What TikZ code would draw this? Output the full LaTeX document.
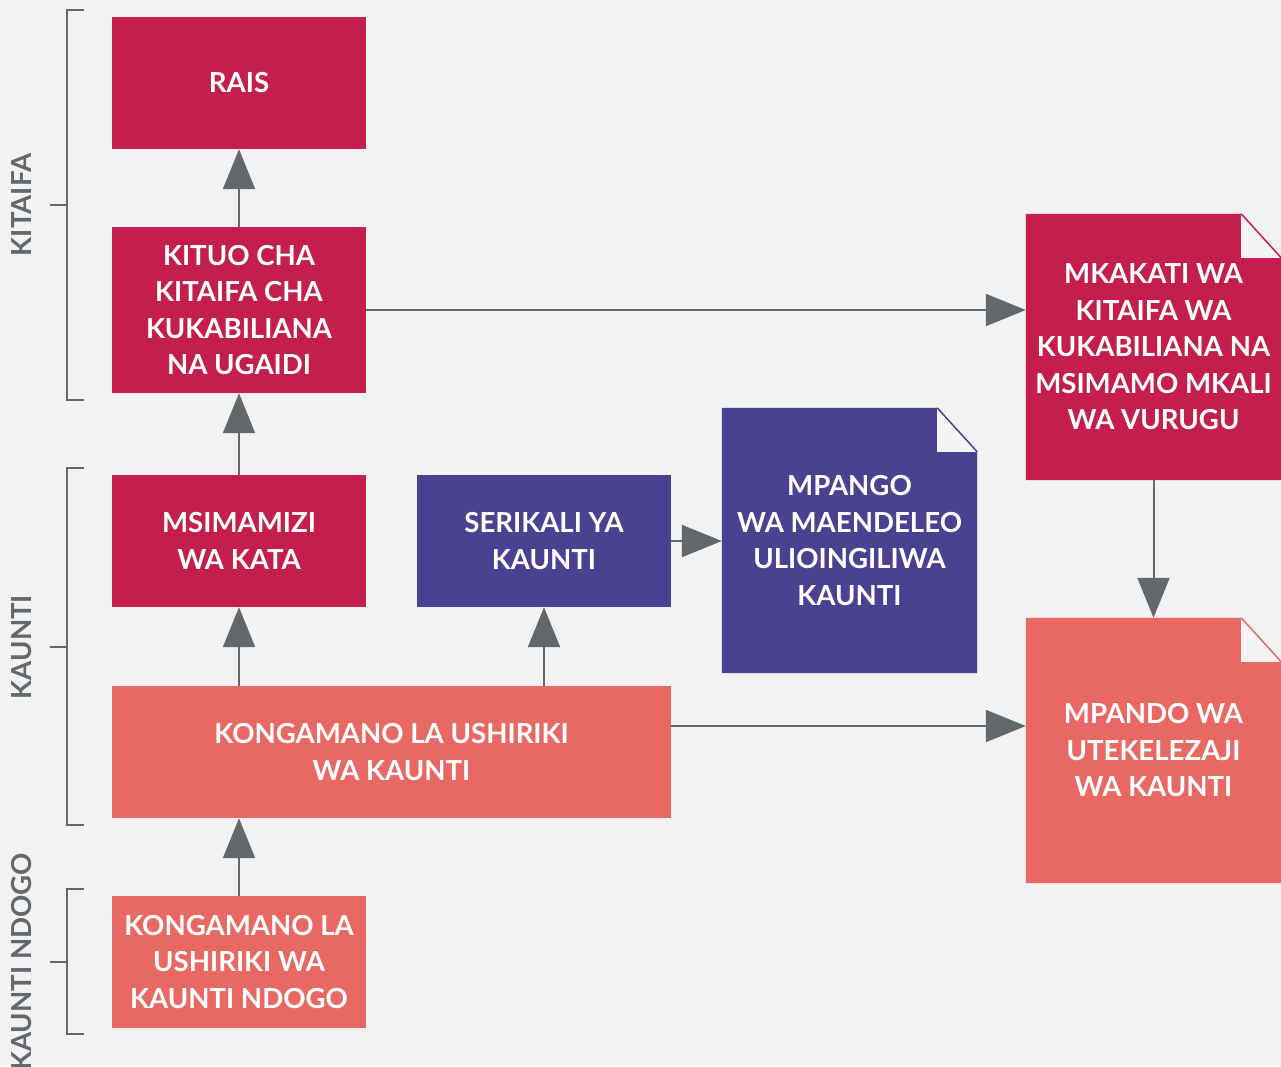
\documentclass[tikz,border=0pt]{standalone}
\usepackage{fontspec}
\setmainfont{Lato}
\usetikzlibrary{arrows.meta,calc}
\definecolor{bgc}{HTML}{F2F2F2}
\definecolor{crim}{HTML}{C41F4C}
\definecolor{purp}{HTML}{4A4190}
\definecolor{salm}{HTML}{E86963}
\definecolor{grayc}{HTML}{63686D}
\definecolor{foldc}{HTML}{F4F4F4}
\pgfdeclarelayer{bglayer}
\pgfdeclarelayer{docs}
\pgfsetlayers{bglayer,docs,main}
\tikzset{
  box/.style={minimum width=254pt, minimum height=132pt, inner sep=0pt, align=center,
    text=white, font=\fontsize{27.6}{36.5}\selectfont\bfseries},
  doc/.style={box, minimum width=255pt, minimum height=265pt},
  conn/.style={draw=grayc, line width=2pt, -{Triangle[length=40pt,width=32pt]}},
  brk/.style={draw=grayc, line width=2pt},
  lvl/.style={rotate=90, text=grayc, font=\fontsize{27.6}{36}\selectfont\bfseries, inner sep=0pt}
}
\newcommand{\docshape}[2]{%
  \begin{pgfonlayer}{docs}
  \fill[#2] (#1.south west) -- (#1.north west) -- ([xshift=-40pt]#1.north east)
     -- ([yshift=-44pt]#1.north east) -- (#1.south east) -- cycle;
  \fill[foldc] ([xshift=-40pt]#1.north east) -- ([xshift=-40pt,yshift=-44pt]#1.north east)
     -- ([yshift=-44pt]#1.north east) -- cycle;
  \draw[#2, line width=1.5pt] ([xshift=-40pt]#1.north east) -- ([yshift=-44pt]#1.north east);
  \end{pgfonlayer}}
\begin{document}
\begin{tikzpicture}[x=1pt,y=-1pt]
\begin{pgfonlayer}{bglayer}
\fill[bgc] (0,0) rectangle (1281,1066);
\end{pgfonlayer}
\useasboundingbox (0,0) rectangle (1281,1066);

\node[box, fill=crim] (rais) at (239,83) {RAIS};
\node[box, fill=crim, minimum height=166pt] (kituo) at (239,310) {KITUO CHA\\KITAIFA CHA\\KUKABILIANA\\NA UGAIDI};
\node[box, fill=crim] (msim) at (239,541) {MSIMAMIZI\\WA KATA};
\node[box, fill=purp] (seri) at (544,541) {SERIKALI YA\\KAUNTI};
\node[box, fill=salm, minimum width=559pt] (kong) at (391.5,752) {KONGAMANO LA USHIRIKI\\WA KAUNTI};
\node[box, fill=salm] (ndogo) at (239,962) {KONGAMANO LA\\USHIRIKI WA\\KAUNTI NDOGO};

\node[doc] (mpango) at (849.5,540.5) {MPANGO\\WA MAENDELEO\\ULIOINGILIWA\\KAUNTI};
\node[doc, minimum height=266pt] (mkakati) at (1153.5,347) {MKAKATI WA\\KITAIFA WA\\KUKABILIANA NA\\MSIMAMO MKALI\\WA VURUGU};
\node[doc] (mpando) at (1153.5,750.5) {MPANDO WA\\UTEKELEZAJI\\WA KAUNTI};
\docshape{mpango}{purp}
\docshape{mkakati}{crim}
\docshape{mpando}{salm}

\draw[conn] (kituo.north) -- (rais.south);
\draw[conn] (msim.north) -- (kituo.south);
\draw[conn] (kong.north -| msim.south) -- (msim.south);
\draw[conn] (kong.north -| seri.south) -- (seri.south);
\draw[conn] (ndogo.north) -- (kong.south -| ndogo.north);
\draw[conn] (kituo.east) -- (kituo.east -| mkakati.west);
\draw[conn] (seri.east) -- (seri.east -| mpango.west);
\coordinate (kongr) at ([yshift=26pt]kong.east);
\draw[conn] (kongr) -- (kongr -| mpando.west);
\draw[conn] (mkakati.south) -- (mpando.north);

\draw[brk] (84,10) -- (67,10) -- (67,400) -- (84,400);
\draw[brk] (50,205) -- (67,205);
\draw[brk] (84,468) -- (67,468) -- (67,825) -- (84,825);
\draw[brk] (50,647) -- (67,647);
\draw[brk] (84,889) -- (67,889) -- (67,1034) -- (84,1034);
\draw[brk] (50,962) -- (67,962);

\node[lvl] (l1) at (22,205) {KITAIFA};
\node[lvl] (l2) at (22,647) {KAUNTI};
\node[lvl] (l3) at (22,962) {KAUNTI NDOGO};
\end{tikzpicture}
\end{document}
